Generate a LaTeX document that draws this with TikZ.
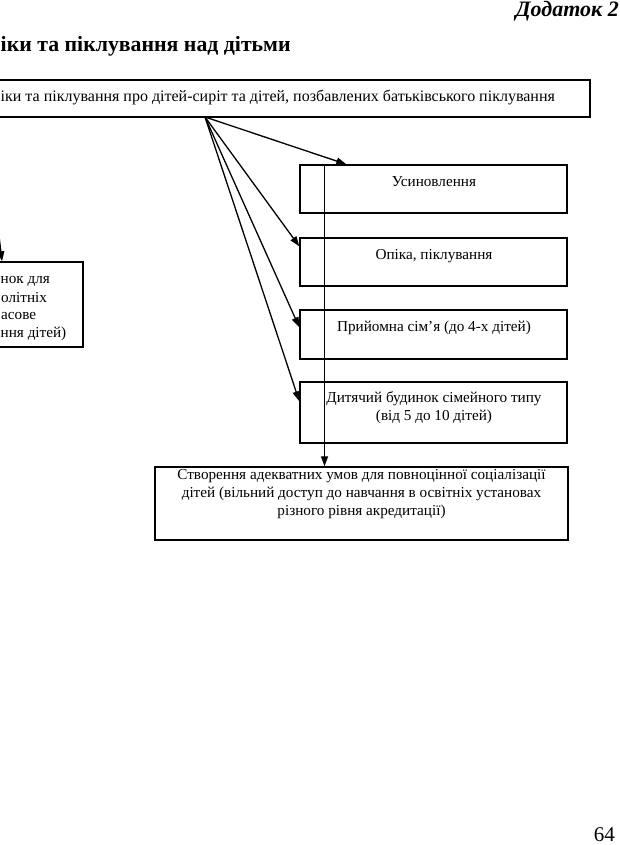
\documentclass[tikz,border=0pt]{standalone}
\usepackage{fontspec}
\setmainfont{Liberation Serif}
\usetikzlibrary{arrows.meta,calc}
\begin{document}
\begin{tikzpicture}[x=1pt,y=-1pt,
  box/.style={draw=black,line width=1.4pt,inner sep=0pt,rectangle},
  txt/.style={inner sep=0pt,font=\fontsize{15.2}{17.8}\selectfont,align=center},
  arr/.style={line width=1.3pt,-{Triangle[length=10pt,width=7pt]}}]
\useasboundingbox (0,0) rectangle (620,845);
\begin{scope}
\clip (0,0) rectangle (620,845);
% title and heading
\node[inner sep=0pt,anchor=east,font=\fontsize{22}{25}\bfseries\itshape\selectfont] (dod) at (619,11) {Додаток 2};
\node[inner sep=0pt,anchor=west,font=\fontsize{21.8}{25}\bfseries\selectfont] (head) at (0.5,46) {іки та піклування над дітьми};
% boxes
\node[box,minimum width=790,minimum height=37] (top) at (195,98.5) {};
\node[txt,anchor=west,font=\fontsize{16}{18}\selectfont] (topT) at (0.5,98) {іки та піклування про дітей-сиріт та дітей, позбавлених батьківського піклування};
\node[box,minimum width=267,minimum height=48] (usyn) at (433.5,189) {};
\node[txt] (usynT) at (434,182) {Усиновлення};
\node[box,minimum width=267,minimum height=48] (opika) at (433.5,262) {};
\node[txt] (opikaT) at (434,256) {Опіка, піклування};
\node[box,minimum width=267,minimum height=49] (pryi) at (433.5,334.5) {};
\node[txt] (pryiT) at (434,328) {Прийомна сім’я (до 4-х дітей)};
\node[box,minimum width=267,minimum height=61] (dyt) at (433.5,412.5) {};
\node[txt] (dytT) at (434,408) {Дитячий будинок сімейного типу\\(від 5 до 10 дітей)};
\node[box,minimum width=413,minimum height=73] (bot) at (361.5,503.5) {};
\node[txt] (botT) at (361.5,494) {Створення адекватних умов для повноцінної соціалізації\\дітей (вільний доступ до навчання в освітніх установах\\різного рівня акредитації)};
\node[box,minimum width=162,minimum height=85] (lbox) at (2,304.5) {};
\node[txt,anchor=base west] (l1) at (0.5,283) {нок для};
\node[txt,anchor=base west] (l2) at (1,302) {олітніх};
\node[txt,anchor=base west] (l3) at (1,319) {асове};
\node[txt,anchor=base west] (l4) at (0.5,337) {ння дітей)};
% connectors
\coordinate (src) at (205,117);
\coordinate (lsrc) at (-15,117);
\coordinate (vtop) at (324.5,165);
\draw[arr] (src) -- ($(usyn.north west)+(47,0)$);
\draw[arr] (src) -- ($(opika.north west)+(0,9)$);
\draw[arr] (src) -- ($(pryi.north west)+(0,18)$);
\draw[arr] (src) -- ($(dyt.north west)+(0,20)$);
\draw[arr] (vtop) -- (vtop |- bot.north);
\draw[arr] (lsrc) -- (lbox.north);
% page number
\node[inner sep=0pt,anchor=east,font=\fontsize{21}{24}\selectfont] (pg) at (615,835) {64};
\end{scope}
\end{tikzpicture}
\end{document}
